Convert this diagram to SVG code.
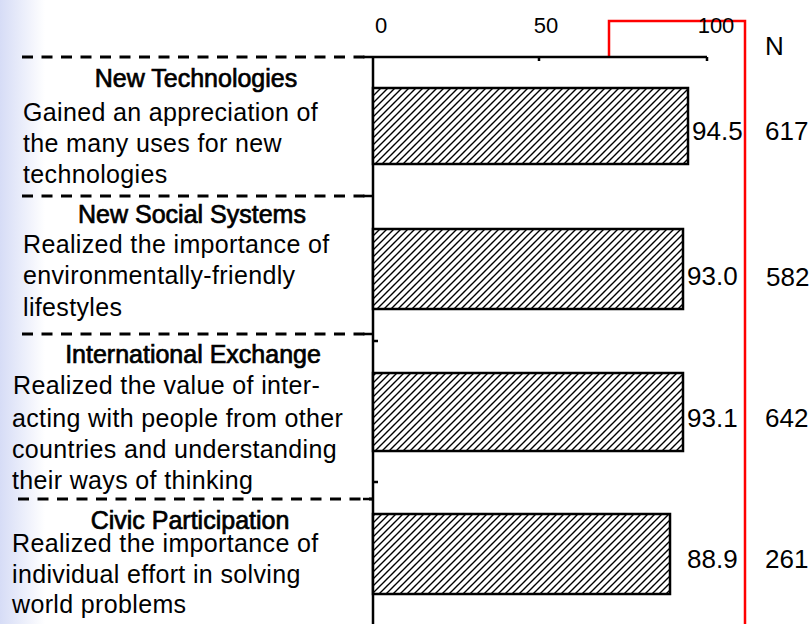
<svg xmlns="http://www.w3.org/2000/svg" width="812" height="624" viewBox="0 0 812 624">
<defs>
<linearGradient id="bg" x1="0" y1="0" x2="1" y2="0">
<stop offset="0" stop-color="#d6dcf6"/>
<stop offset="1" stop-color="#ffffff"/>
</linearGradient>
<pattern id="hatch" patternUnits="userSpaceOnUse" width="7" height="7">
<rect width="7" height="7" fill="#fff"/>
<path d="M0,7 L7,0 M-1,1 L1,-1 M6,8 L8,6" stroke="#000" stroke-width="1.4"/>
</pattern>
<style>
text{font-family:"Liberation Sans",Arial,sans-serif;fill:#000}
.h{font-size:25px;text-anchor:middle;stroke:#000;stroke-width:0.7px}
.b{font-size:25px;letter-spacing:0.35px}
.v{font-size:26px}
.ax{font-size:22px}
.bar{fill:url(#hatch);stroke:#000;stroke-width:2.5}
.dash{stroke:#000;stroke-width:3;stroke-dasharray:11 8.5;fill:none}
.line{stroke:#000;stroke-width:2.5;fill:none}
.red{stroke:#ff0000;stroke-width:2.5;fill:none}
</style>
</defs>
<rect width="812" height="624" fill="#fff"/>
<rect width="45" height="624" fill="url(#bg)"/>

<g id="connectors">
<path class="red" d="M609,57 V21 H745 V624"/>
<path class="dash" d="M22,57 H373 M22,196 H373 M22,334 H373 M18,499 H373"/>
<path class="line" d="M373,57 V624 M373,57 H707 M539,57 V61 M707,57 V61"/>
<path class="line" d="M363,57 H373 M363,196 H373 M363,334 H373 M363,499 H373 M373,341 H378 M373,482 H378"/>
</g>

<g id="axis-labels">
<text class="ax" x="381" y="33" text-anchor="middle">0</text>
<text class="ax" x="546" y="33" text-anchor="middle">50</text>
<text class="ax" x="716" y="33" text-anchor="middle">100</text>
<text class="v" x="765" y="55">N</text>
</g>

<g id="new-technologies">
<text class="h" x="196" y="87">New Technologies</text>
<text class="b" x="23" y="121">Gained an appreciation of</text>
<text class="b" x="23" y="152">the many uses for new</text>
<text class="b" x="23" y="183">technologies</text>
<rect class="bar" x="373" y="88" width="315" height="76"/>
<text class="v" x="692" y="140">94.5</text>
<text class="v" x="765" y="140">617</text>
</g>

<g id="new-social-systems">
<text class="h" x="192" y="223">New Social Systems</text>
<text class="b" x="23" y="253">Realized the importance of</text>
<text class="b" x="23" y="284">environmentally-friendly</text>
<text class="b" x="23" y="316">lifestyles</text>
<rect class="bar" x="373" y="229" width="310" height="80"/>
<text class="v" x="687" y="285">93.0</text>
<text class="v" x="766" y="286">582</text>
</g>

<g id="international-exchange">
<text class="h" x="193" y="363">International Exchange</text>
<text class="b" x="13" y="394">Realized the value of inter-</text>
<text class="b" x="12" y="427">acting with people from other</text>
<text class="b" x="12" y="458">countries and understanding</text>
<text class="b" x="12" y="489">their ways of thinking</text>
<rect class="bar" x="373" y="373" width="310" height="78"/>
<text class="v" x="687" y="427">93.1</text>
<text class="v" x="765" y="427">642</text>
</g>

<g id="civic-participation">
<text class="h" x="190" y="529">Civic Participation</text>
<text class="b" x="12" y="552">Realized the importance of</text>
<text class="b" x="12" y="583">individual effort in solving</text>
<text class="b" x="12" y="613">world problems</text>
<rect class="bar" x="373" y="514" width="297" height="80"/>
<text class="v" x="687" y="568">88.9</text>
<text class="v" x="765" y="568">261</text>
</g>
</svg>
